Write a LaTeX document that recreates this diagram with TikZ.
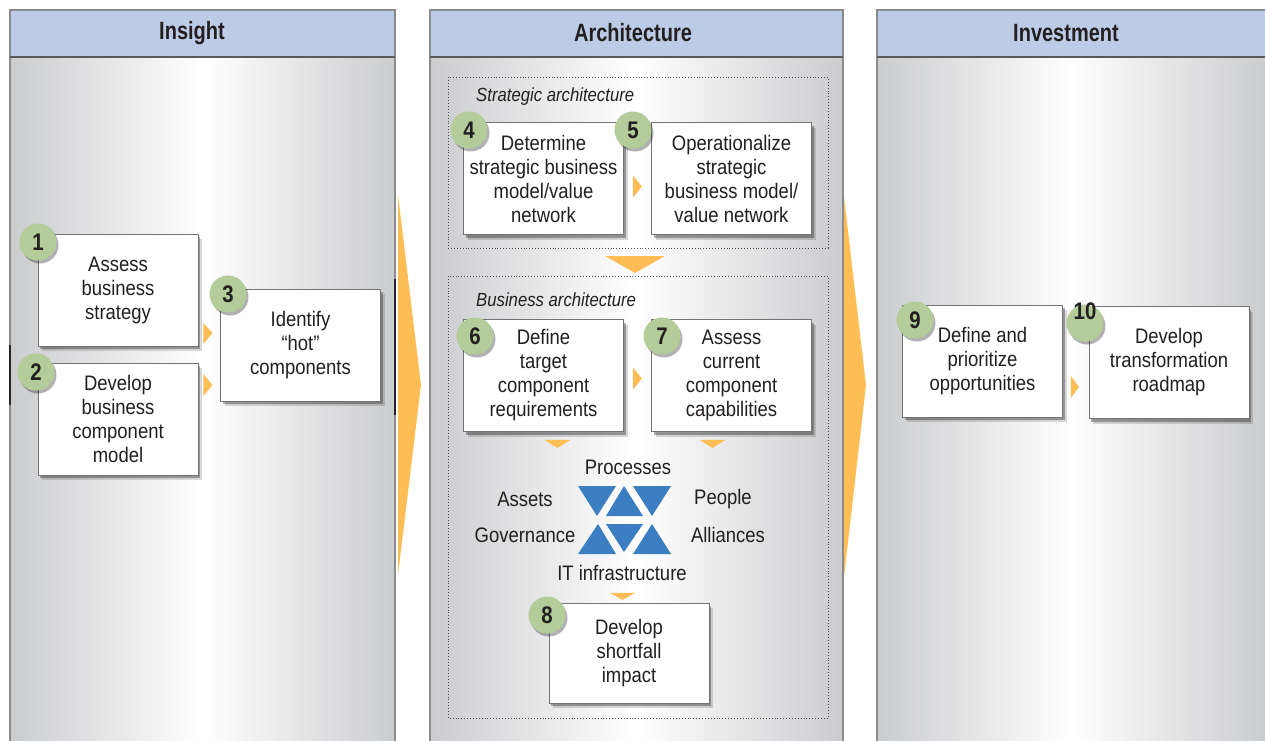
\documentclass[tikz,border=0pt]{standalone}
\usepackage{fontspec}
\setmainfont{Liberation Sans}[FakeStretch=0.88]
\newfontfamily\hdrfont{Liberation Sans}[FakeStretch=0.8]
\newfontfamily\numfont{Liberation Sans}[FakeStretch=0.85]
\usetikzlibrary{shadows,calc}
\definecolor{txt}{HTML}{231F20}
\definecolor{hdr}{HTML}{BCCCE7}
\definecolor{edgegray}{HTML}{CBCCCE}
\definecolor{pborder}{HTML}{8C8C8C}
\definecolor{grn}{HTML}{B3CC99}
\definecolor{orng}{HTML}{FFBD55}
\definecolor{tblue}{HTML}{3B7EC2}
\tikzset{
  boxshadow/.style={drop shadow={shadow xshift=2pt,shadow yshift=-3pt,opacity=0.30,fill=black},
                    drop shadow={shadow xshift=4pt,shadow yshift=-5pt,opacity=0.15,fill=black}},
  stepbox/.style={draw=black!55, line width=0.8pt, fill=white, minimum width=160pt,
                  minimum height=112pt, inner sep=0pt, align=center, text=txt,
                  font=\fontsize{21}{24}\selectfont, boxshadow},
  numc/.style={circle, fill=grn, minimum size=37pt, inner sep=0pt, text=txt,
               font=\numfont\bfseries\fontsize{24}{24}\selectfont,
               drop shadow={shadow xshift=2pt,shadow yshift=-3pt,opacity=0.30,fill=black}},
  hdrtext/.style={text=txt, font=\hdrfont\bfseries\fontsize{25}{30}\selectfont},
  grouplabel/.style={text=txt, anchor=west, inner sep=0pt, font=\itshape\fontsize{19}{22}\selectfont},
  plabel/.style={text=txt, inner sep=0pt, font=\fontsize{21}{24}\selectfont},
  panelborder/.style={draw=pborder, line width=1.5pt},
  arrowfill/.style={fill=orng},
  dotbox/.style={draw=black!70, dotted, line width=0.9pt},
}
\begin{document}
\begin{tikzpicture}[x=1pt,y=-1pt]
\useasboundingbox (0,0) rectangle (1265,740);

% ---------- panels ----------
\foreach \xa/\xb in {10/395, 430/843, 877/1266}{
  \shade[left color=edgegray, right color=edgegray, middle color=white] (\xa,57) rectangle (\xb,741);
  \fill[hdr] (\xa,10) rectangle (\xb,57);
  \draw[panelborder] (\xa,741) -- (\xa,10) -- (\xb,10) -- (\xb,741);
  \draw[black!65, line width=1.2pt] (\xa,57) -- (\xb,57);
}
\draw[black!85, line width=1.8pt] (10,345) -- (10,405);
\draw[black!85, line width=1.8pt] (395,279) -- (395,415);

\node[hdrtext] (hins) at (192,33) {Insight};
\node[hdrtext] (harc) at (633,33) {Architecture};
\node[hdrtext] (hinv) at (1066,33) {Investment};

% ---------- big arrows between columns ----------
\fill[arrowfill] (398,195) -- (421,385) -- (398,575) -- cycle;
\fill[arrowfill] (844,197) -- (866,385) -- (844,577) -- cycle;

% ---------- Insight ----------
\node[stepbox] (b1) at (118,290) {Assess\\business\\strategy};
\node[stepbox] (b2) at (118,419) {Develop\\business\\component\\model};
\node[stepbox] (b3) at (300.5,345) {Identify\\“hot”\\components};
\node[numc] (n1) at (38,242) {1};
\node[numc] (n2) at (36,372) {2};
\node[numc] (n3) at (228,294) {3};
\fill[arrowfill] ($(b1.east)+(5,33)$) -- ++(9,10) -- ++(-9,11) -- cycle;
\fill[arrowfill] ($(b2.east)+(5,-45)$) -- ++(9,11) -- ++(-9,11) -- cycle;

% ---------- Architecture: strategic ----------
\draw[dotbox] (448,77) rectangle (828,248);
\node[grouplabel] (lstrat) at (476,97) {Strategic architecture};
\node[stepbox] (b4) at (543.5,178.5) {Determine\\strategic business\\model/value\\network};
\node[stepbox] (b5) at (731.5,178.5) {Operationalize\\strategic\\business model/\\value network};
\node[numc] (n4) at (469,130) {4};
\node[numc] (n5) at (633,130) {5};
\fill[arrowfill] ($(b4.east)+(9,-3)$) -- ++(9,11) -- ++(-9,11) -- cycle;

\fill[arrowfill] (605,256) -- (665,256) -- (635,273) -- cycle;

% ---------- Architecture: business ----------
\draw[dotbox] (448,276) rectangle (828,718);
\node[grouplabel] (lbus) at (476,300) {Business architecture};
\node[stepbox] (b6) at (543.5,375.5) {Define\\target\\component\\requirements};
\node[stepbox] (b7) at (731.5,375.5) {Assess\\current\\component\\capabilities};
\node[numc] (n6) at (475,336) {6};
\node[numc] (n7) at (662,336) {7};
\fill[arrowfill] ($(b6.east)+(9,-8)$) -- ++(9,11) -- ++(-9,11) -- cycle;
\fill[arrowfill] ($(b6.south)+(1,8)$) -- ++(26,0) -- ++(-13,8) -- cycle;
\fill[arrowfill] ($(b7.south)+(-32,8)$) -- ++(26,0) -- ++(-13,8) -- cycle;

% triangles cluster
\begin{scope}[tblue]
\fill (578,486) -- (616,486) -- (597,516) -- cycle;
\fill (624,486) -- (643,516) -- (606,516) -- cycle;
\fill (633,486) -- (671,486) -- (652,516) -- cycle;
\fill (598,524) -- (616,554) -- (578,554) -- cycle;
\fill (606,524) -- (643,524) -- (624,552) -- cycle;
\fill (652,524) -- (671,554) -- (633,554) -- cycle;
\end{scope}
\node[plabel] (lproc) at (628,467) {Processes};
\node[plabel] (lasset) at (525,499) {Assets};
\node[plabel] (lpeop) at (723,499) {People};
\node[plabel] (lgov) at (525,535) {Governance};
\node[plabel] (lall) at (728,535) {Alliances};
\node[plabel] (lit) at (622,573) {IT infrastructure};

\node[stepbox, minimum height=100pt] (b8) at (629,653) {Develop\\shortfall\\impact};
\fill[arrowfill] ($(lit.south)+(-12,12)$) -- ++(25,0) -- ++(-12.5,7) -- cycle;
\node[numc] (n8) at (547,615) {8};

% ---------- Investment ----------
\node[stepbox] (b9) at (982.5,361) {Define and\\prioritize\\opportunities};
\node[stepbox] (b10) at (1169,362.5) {Develop\\transformation\\roadmap};
\node[numc] (n9) at (915,320) {9};
\node[numc] (n10) at (1085,323) {};
\node[text=txt, font=\numfont\bfseries\fontsize{24}{24}\selectfont, inner sep=0pt] (t10) at (1085,311) {10};
\fill[arrowfill] ($(b9.east)+(8,15)$) -- ++(8,11) -- ++(-8,11) -- cycle;

\end{tikzpicture}
\end{document}
